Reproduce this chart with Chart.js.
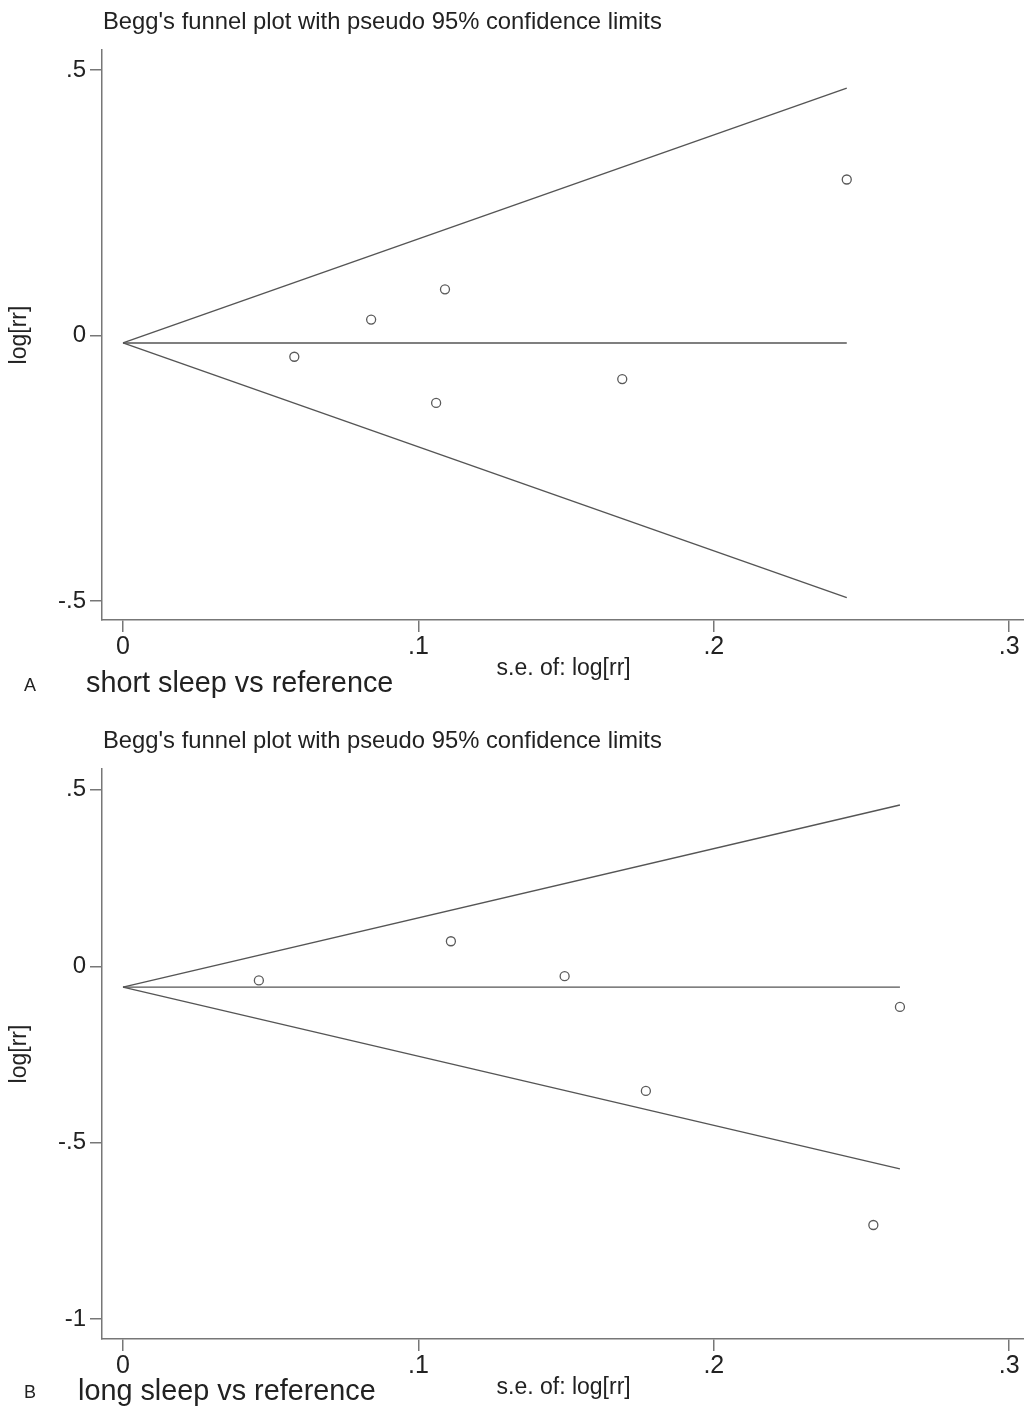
<!DOCTYPE html>
<html>
<head>
<meta charset="utf-8">
<script src="https://cdn.jsdelivr.net/npm/chart.js@4.4.1/dist/chart.umd.min.js"></script>
<style>
  body { margin: 0; background: #fff; width: 1024px; height: 1409px; position: relative; overflow: hidden; font-family: "Liberation Sans", Arial, sans-serif; color: #222; }
  .panel { position: absolute; left: 0; width: 1031px; height: 700px; }
  .panel canvas { position: absolute; left: 0; top: 0; }
  .title { position: absolute; left: 103px; top: 7px; font-size: 23.8px; white-space: nowrap; }
  .letter { position: absolute; left: 24px; top: 675px; font-size: 18px; }
  .caption { position: absolute; left: 86px; top: 666px; font-size: 28.8px; white-space: nowrap; }
</style>
</head>
<body>
<div class="panel" id="panelA" style="top:0px">
  <canvas id="chartA" width="1031" height="700"></canvas>
  <div class="title">Begg's funnel plot with pseudo 95% confidence limits</div>
  <div class="letter">A</div>
  <div class="caption">short sleep vs reference</div>
</div>
<div class="panel" id="panelB" style="top:719px">
  <canvas id="chartB" width="1031" height="700"></canvas>
  <div class="title">Begg's funnel plot with pseudo 95% confidence limits</div>
  <div class="letter" style="top:663px">B</div>
  <div class="caption" style="left:78px; top:655px">long sleep vs reference</div>
</div>
<script>
// x axis ticks (shared)
const xTicks = [0, 0.1, 0.2, 0.3];

// panel A: short sleep vs reference
const shortSe = [0.058, 0.084, 0.109, 0.106, 0.169, 0.245];
const shortLogRR = [-0.040, 0.030, 0.087, -0.127, -0.082, 0.294];
const shortLimitSe = [0, 0.245];
const shortCenter = [-0.014, -0.014];
const shortUpper = [-0.014, 0.466];
const shortLower = [-0.014, -0.494];
const shortYTicks = [-0.5, 0, 0.5];

// panel B: long sleep vs reference
const longSe = [0.046, 0.111, 0.1495, 0.177, 0.263, 0.254];
const longLogRR = [-0.040, 0.071, -0.028, -0.353, -0.115, -0.733];
const longLimitSe = [0, 0.263];
const longCenter = [-0.059, -0.059];
const longUpper = [-0.059, 0.457];
const longLower = [-0.059, -0.574];
const longYTicks = [-1, -0.5, 0, 0.5];

const axisColor = '#777';
const lineColor = '#555';

function toPoints(xs, ys) {
  return xs.map((x, i) => ({ x: x, y: ys[i] }));
}

function fmtTick(v) {
  if (v === 0) return '0';
  return String(v).replace('0.', '.');
}

function makeFunnel(canvasId, se, logrr, limSe, center, upper, lower, yTicks, yMin, yMax) {
  let _lineStyle = {
    type: 'line',
    borderColor: lineColor,
    borderWidth: 1.4,
    pointRadius: 0,
    fill: false,
  };
  return new Chart(document.getElementById(canvasId), {
    type: 'scatter',
    data: {
      datasets: [
        Object.assign({ data: toPoints(limSe, upper) }, _lineStyle),
        Object.assign({ data: toPoints(limSe, center) }, _lineStyle),
        Object.assign({ data: toPoints(limSe, lower) }, _lineStyle),
        {
          type: 'scatter',
          data: toPoints(se, logrr),
          pointRadius: 4.5,
          pointBorderWidth: 1.3,
          pointBorderColor: '#5a5a5a',
          pointBackgroundColor: 'rgba(255,255,255,0)',
        },
      ],
    },
    options: {
      responsive: false,
      animation: false,
      layout: { padding: { top: 50, right: 0, bottom: 0, left: 0 } },
      plugins: { legend: { display: false }, tooltip: { enabled: false } },
      scales: {
        x: {
          type: 'linear',
          min: -0.0071,
          max: 0.3054,
          afterBuildTicks: (scale) => { scale.ticks = xTicks.map((v) => ({ value: v })); },
          afterFit: (scale) => { scale.height = 80; },
          border: { display: true, color: axisColor, width: 1.5 },
          grid: { drawOnChartArea: false, drawTicks: true, tickLength: 12, color: axisColor, lineWidth: 1.5 },
          ticks: {
            callback: (v) => fmtTick(v),
            padding: 0,
            maxRotation: 0,
            color: '#222',
            font: { family: 'Liberation Sans', size: 25 },
          },
          title: {
            display: true,
            text: 's.e. of: log[rr]',
            color: '#222',
            font: { family: 'Liberation Sans', size: 23 },
            padding: { top: 0, bottom: 18 },
          },
        },
        y: {
          type: 'linear',
          min: yMin,
          max: yMax,
          afterBuildTicks: (scale) => { scale.ticks = yTicks.map((v) => ({ value: v })); },
          afterFit: (scale) => { scale.width = 102; scale.paddingTop = 0; scale.paddingBottom = 0; },
          border: { display: true, color: axisColor, width: 1.5 },
          grid: { drawOnChartArea: false, drawTicks: true, tickLength: 12, color: axisColor, lineWidth: 1.5 },
          ticks: {
            callback: (v) => fmtTick(v),
            padding: 4,
            color: '#222',
            font: { family: 'Liberation Sans', size: 24 },
          },
          title: {
            display: true,
            text: 'log[rr]',
            color: '#222',
            font: { family: 'Liberation Sans', size: 23 },
            padding: { top: 6, bottom: 0 },
          },
        },
      },
    },
  });
}

makeFunnel('chartA', shortSe, shortLogRR, shortLimitSe, shortCenter, shortUpper, shortLower, shortYTicks, -0.536, 0.538);
makeFunnel('chartB', longSe, longLogRR, longLimitSe, longCenter, longUpper, longLower, longYTicks, -1.056, 0.559);
</script>
</body>
</html>
